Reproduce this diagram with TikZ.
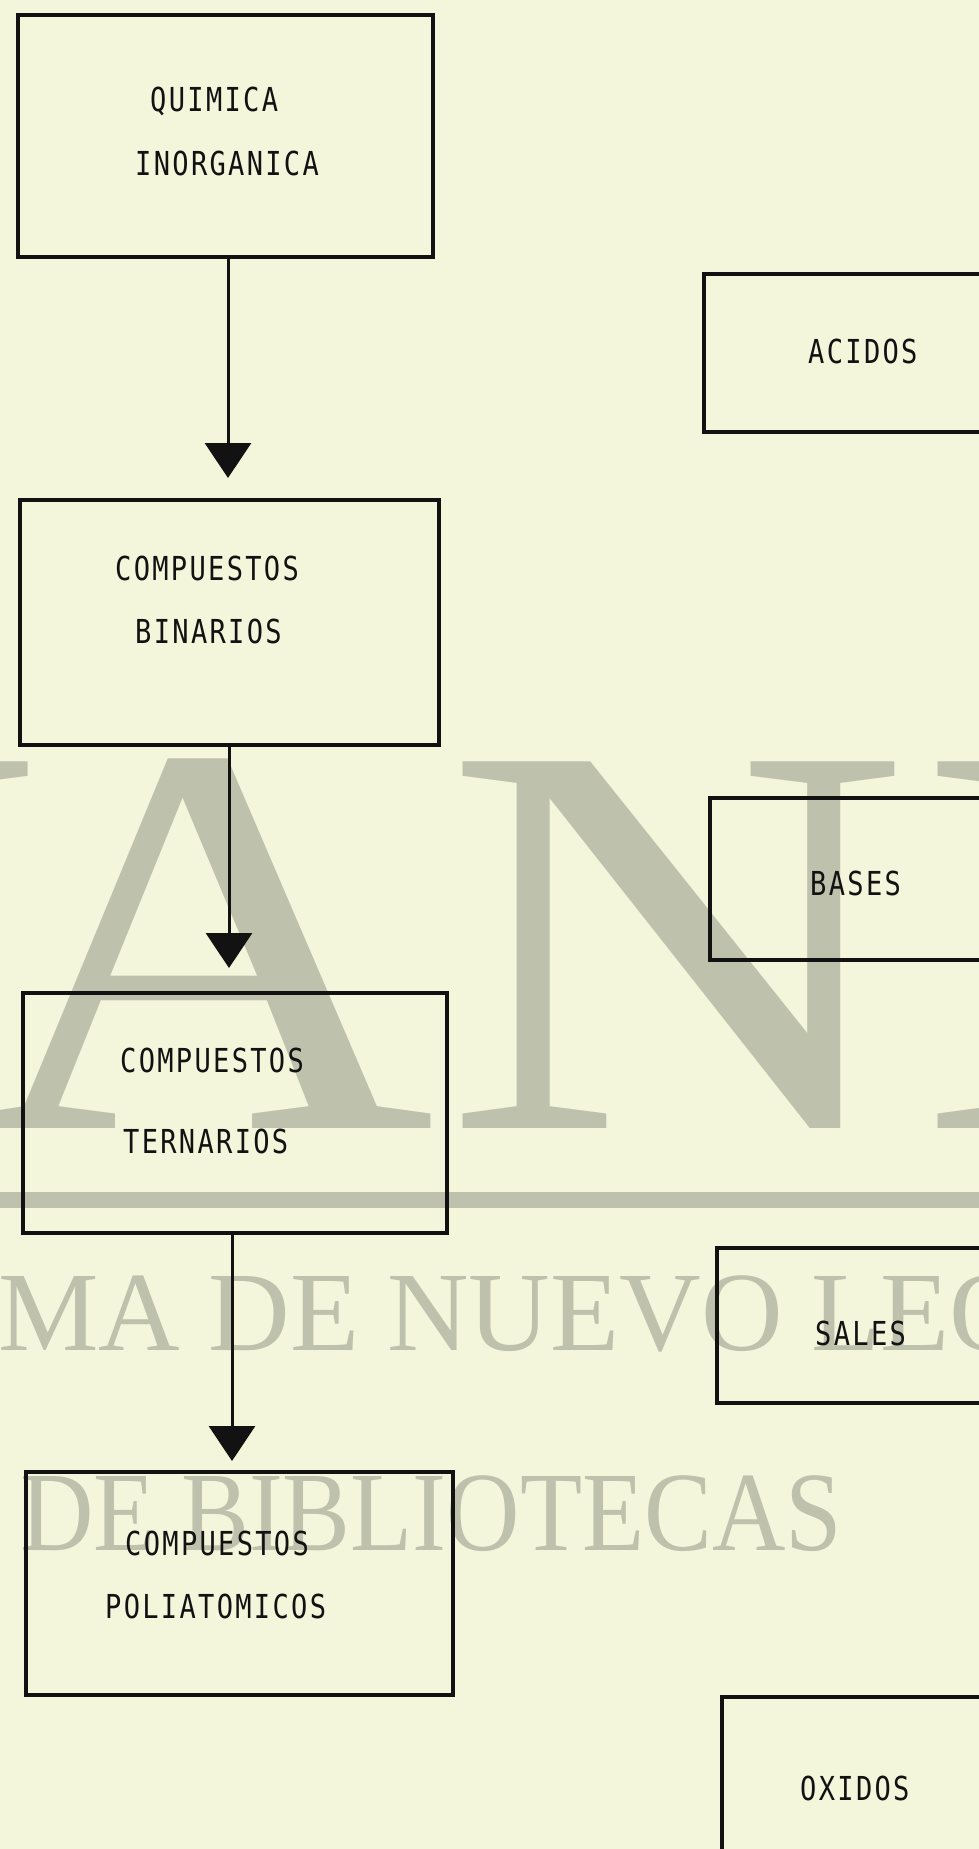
\documentclass[tikz,border=0pt]{standalone}
\usepackage{fontspec}
\newfontfamily\tw[FakeStretch=0.82, LetterSpace=7]{DejaVu Sans Mono}
\newfontfamily\wm{Liberation Serif}
\usetikzlibrary{arrows.meta}
\definecolor{paper}{RGB}{243,246,218}
\definecolor{wmark}{RGB}{190,193,172}
\definecolor{ink}{RGB}{18,18,18}
\begin{document}
\begin{tikzpicture}[x=1pt,y=-1pt,
  box/.style={draw=ink, line width=4pt, inner sep=0pt, outer sep=0pt, anchor=north west},
  lbl/.style={anchor=base west, inner sep=0pt, text=ink, font=\tw\fontsize{33}{38}\selectfont},
  conn/.style={draw=ink, line width=3pt, -{Triangle[width=46pt,length=35pt]}},
  wmtext/.style={anchor=base west, inner sep=0pt, text=wmark},
  wmbig/.style={wmtext, font=\wm\fontsize{560}{600}\selectfont, xscale=1.15}]
\useasboundingbox (0,0) rectangle (979,1849);
\fill[paper] (0,0) rectangle (979,1849);
\clip (0,0) rectangle (979,1849);
% watermark
\node[wmbig] (wmU) at (-424,1128) {U};
\node[wmbig] (wmA) at (-30,1128) {A};
\node[wmbig] (wmN) at (444,1128) {N};
\node[wmbig] (wmL) at (919,1128) {L};
\fill[wmark] (0,1192) rectangle (979,1208);
\node[wmtext, font=\wm\fontsize{113}{120}\selectfont] (wmline1) at (-2,1350) {MA DE NUEVO LEÓ};
\node[wmtext, font=\wm\fontsize{113}{120}\selectfont, xscale=0.9] (wmline2) at (20,1550) {DE BIBLIOTECAS};
% boxes
\node[box, minimum width=415pt, minimum height=242pt] (qi) at (18,15) {};
\node[box, minimum width=419pt, minimum height=245pt] (cb) at (20,500) {};
\node[box, minimum width=424pt, minimum height=240pt] (ct) at (23,993) {};
\node[box, minimum width=427pt, minimum height=223pt] (cp) at (26,1472) {};
\node[box, minimum width=306pt, minimum height=158pt] (ac) at (704,274) {};
\node[box, minimum width=300pt, minimum height=162pt] (ba) at (710,798) {};
\node[box, minimum width=293pt, minimum height=155pt] (sa) at (717,1248) {};
\node[box, minimum width=288pt, minimum height=203pt] (ox) at (722,1697) {};
% labels
\node[lbl] (qi1) at (150,112) {QUIMICA};
\node[lbl] (qi2) at (135,175) {INORGANICA};
\node[lbl] (cb1) at (115,580) {COMPUESTOS};
\node[lbl] (cb2) at (135,643) {BINARIOS};
\node[lbl] (ct1) at (120,1072) {COMPUESTOS};
\node[lbl] (ct2) at (123,1153) {TERNARIOS};
\node[lbl] (cp1) at (125,1555) {COMPUESTOS};
\node[lbl] (cp2) at (105,1618) {POLIATOMICOS};
\node[lbl] (ac1) at (808,363) {ACIDOS};
\node[lbl] (ba1) at (810,895) {BASES};
\node[lbl] (sa1) at (815,1345) {SALES};
\node[lbl] (ox1) at (800,1800) {OXIDOS};
% connectors
\coordinate (x1) at (228,0);
\coordinate (x2) at (229,0);
\coordinate (x3) at (232,0);
\draw[conn, shorten >=22pt] (qi.south -| x1) -- (cb.north -| x1);
\draw[conn, shorten >=25pt] (cb.south -| x2) -- (ct.north -| x2);
\draw[conn, shorten >=11pt] (ct.south -| x3) -- (cp.north -| x3);
\end{tikzpicture}
\end{document}
